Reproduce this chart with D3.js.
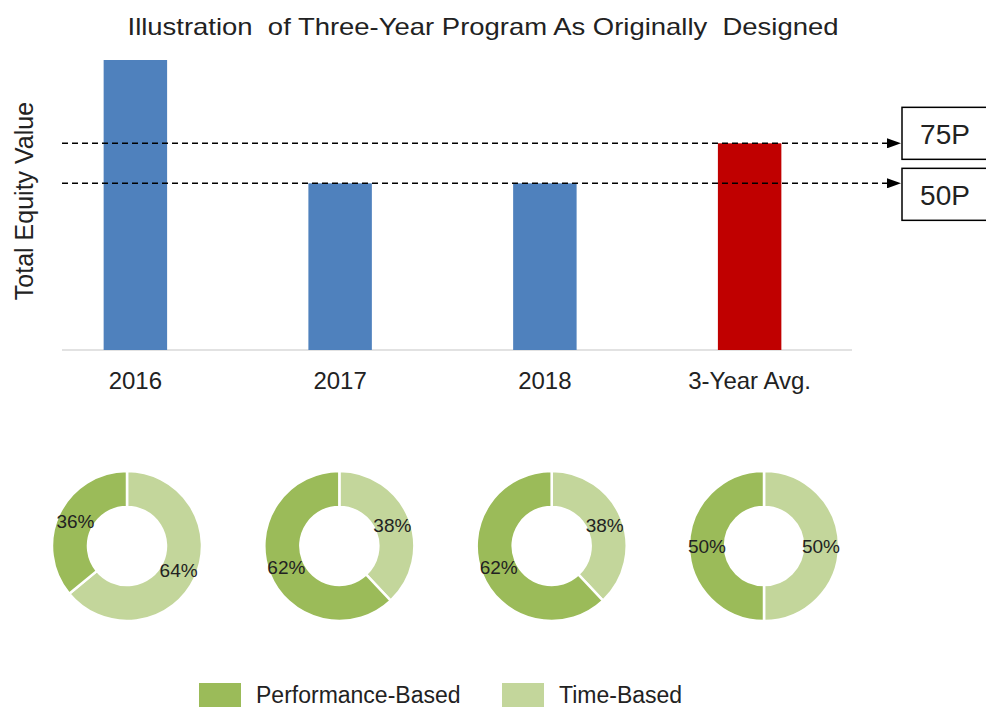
<!DOCTYPE html>
<html>
<head>
<meta charset="utf-8">
<script src="https://cdn.jsdelivr.net/npm/d3@7"></script>
<style>
  body { margin: 0; background: #fff; }
  text { font-family: "Liberation Sans", Arial, sans-serif; }
</style>
</head>
<body>
<div id="chart"></div>
<script>
// bar data (relative equity value)
const categories = ["2016", "2017", "2018", "3-Year Avg."];
const barValues = [87, 50, 50, 62];
const barColors = ["#4f81bd", "#4f81bd", "#4f81bd", "#c00000"];

// reference lines + boxes on the right
const refValues = [62, 50];
const refLabels = ["75P", "50P"];

// donut splits
const donutNames = ["Time-Based", "Performance-Based"];
const perfShare = [36, 62, 62, 50];
const timeShare = [64, 38, 38, 50];
const donutColors = {"Performance-Based": "#9bbb59", "Time-Based": "#c3d69b"};
const legendItems = ["Performance-Based", "Time-Based"];

const W = 986, H = 709;
const svg = d3.select("#chart").append("svg")
    .attr("width", W)
    .attr("height", H);

svg.append("defs").append("marker")
    .attr("id", "arrow")
    .attr("viewBox", "0 0 14 10")
    .attr("refX", 14).attr("refY", 5)
    .attr("markerWidth", 14).attr("markerHeight", 10)
    .attr("markerUnits", "userSpaceOnUse")
    .attr("orient", "auto")
    .append("path")
    .attr("d", "M0,0 L14,5 L0,10 Z")
    .attr("fill", "#000");

// title
svg.append("text")
    .attr("x", 483).attr("y", 35)
    .attr("text-anchor", "middle")
    .attr("textLength", 711)
    .attr("lengthAdjust", "spacingAndGlyphs")
    .style("font-size", "24px")
    .style("fill", "#222")
    .attr("xml:space", "preserve")
    .text("Illustration  of Three-Year Program As Originally  Designed");

// scales
const x = d3.scaleBand()
    .domain(categories)
    .range([33, 852])
    .paddingInner(0.69)
    .paddingOuter(0.345);

const y = d3.scaleLinear()
    .domain([0, 87])
    .range([350, 60]);

// axis line
svg.append("line")
    .attr("x1", 62).attr("x2", 852)
    .attr("y1", y(0)).attr("y2", y(0))
    .attr("stroke", "#d9d9d9")
    .attr("stroke-width", 1.5);

svg.selectAll(".bar")
    .data(categories)
    .join("rect")
    .attr("class", "bar")
    .attr("x", d => x(d))
    .attr("width", x.bandwidth())
    .attr("y", (d, i) => y(barValues[i]))
    .attr("height", (d, i) => y(0) - y(barValues[i]))
    .attr("fill", (d, i) => barColors[i]);

svg.selectAll(".xlab")
    .data(categories)
    .join("text")
    .attr("class", "xlab")
    .attr("x", d => x(d) + x.bandwidth() / 2)
    .attr("y", 389)
    .attr("text-anchor", "middle")
    .style("font-size", "24px")
    .style("fill", "#222")
    .text(d => d);

// y axis title
svg.append("text")
    .attr("transform", "translate(33,201) rotate(-90)")
    .attr("text-anchor", "middle")
    .style("font-size", "25px")
    .style("fill", "#222")
    .text("Total Equity Value");

// dashed reference lines with arrows
svg.selectAll(".ref")
    .data(refValues)
    .join("line")
    .attr("class", "ref")
    .attr("x1", 62).attr("x2", 901)
    .attr("y1", d => y(d)).attr("y2", d => y(d))
    .attr("stroke", "#000")
    .attr("stroke-width", 1.5)
    .attr("stroke-dasharray", "6,4")
    .attr("marker-end", "url(#arrow)");

const boxOffset = [-36, -15];
const boxes = svg.selectAll(".refbox")
    .data(refValues)
    .join("g")
    .attr("class", "refbox")
    .attr("transform", (d, i) => "translate(902," + (y(d) + boxOffset[i]) + ")");
boxes.append("rect")
    .attr("width", 100).attr("height", 52)
    .attr("fill", "#fff")
    .attr("stroke", "#000")
    .attr("stroke-width", 1.5);
boxes.append("text")
    .attr("x", 43).attr("y", 37)
    .attr("text-anchor", "middle")
    .style("font-size", "28px")
    .style("fill", "#222")
    .text((d, i) => refLabels[i]);

// donuts
const dx = d3.scalePoint()
    .domain(categories)
    .range([127, 764]);
const donutY = 546;
const pie = d3.pie().sort(null).value(d => d.value);
const arc = d3.arc().innerRadius(39).outerRadius(75);
const labelArc = d3.arc().innerRadius(57).outerRadius(57);

categories.forEach((c, i) => {
    const parts = [
        {name: donutNames[0], value: timeShare[i]},
        {name: donutNames[1], value: perfShare[i]}
    ];
    const g = svg.append("g")
        .attr("transform", "translate(" + dx(c) + "," + donutY + ")");
    g.selectAll("path")
        .data(pie(parts))
        .join("path")
        .attr("d", arc)
        .attr("fill", d => donutColors[d.data.name])
        .attr("stroke", "#fff")
        .attr("stroke-width", 2.5);
    g.selectAll("text")
        .data(pie(parts))
        .join("text")
        .attr("transform", d => "translate(" + labelArc.centroid(d) + ")")
        .attr("text-anchor", "middle")
        .attr("dy", "0.35em")
        .style("font-size", "19px")
        .style("fill", "#222")
        .text(d => d.data.value + "%");
});

// legend (kept a touch above the bottom edge so descenders fit)
const legendX = [199, 502];
const leg = svg.selectAll(".leg")
    .data(legendItems)
    .join("g")
    .attr("class", "leg")
    .attr("transform", (d, i) => "translate(" + legendX[i] + ",683)");
leg.append("rect")
    .attr("width", 42).attr("height", 24)
    .attr("fill", d => donutColors[d]);
leg.append("text")
    .attr("x", 57).attr("y", 20)
    .style("font-size", "23px")
    .style("fill", "#222")
    .text(d => d);
</script>
</body>
</html>
